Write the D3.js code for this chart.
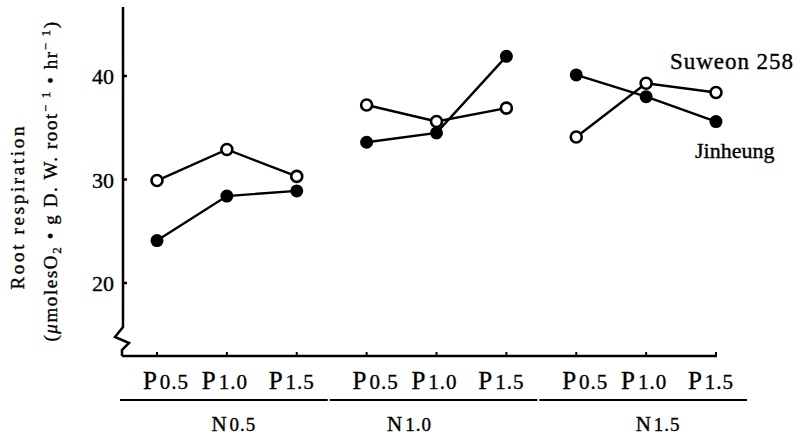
<!DOCTYPE html>
<html>
<head>
    <meta charset="utf-8">
    <script src="https://cdnjs.cloudflare.com/ajax/libs/d3/7.8.5/d3.min.js"></script>
    <style>
        body { margin: 0; background: #fff; }
        svg text { font-family: 'Liberation Serif', 'Times New Roman', 'DejaVu Serif', serif; fill: #000; stroke: #000; stroke-width: 0.35; }
    </style>
</head>
<body>
    <svg id="chart"></svg>
    <script>
        // data
        const nLevels = ['0.5', '1.0', '1.5'];
        const pLevels = ['0.5', '1.0', '1.5'];
        const suweon = [29.9, 32.9, 30.3, 37.2, 35.6, 36.9, 34.1, 39.3, 38.4];
        const jinheung = [24.1, 28.4, 28.9, 33.6, 34.5, 41.9, 40.1, 38.0, 35.6];
        const yTicks = [20, 30, 40];

        const width = 797, height = 442;
        const svg = d3.select('#chart').attr('width', width).attr('height', height);

        const x = d3.scaleLinear().domain([0, 8]).range([157, 716]);
        const y = d3.scaleLinear().domain([20, 40]).range([283, 76]);

        const axisX = 123, axisY = 356;

        // y axis with break
        svg.append('path')
            .attr('d', `M${axisX},7 L${axisX},327 L${axisX - 8},337 L${axisX + 6},343 L${axisX - 1},350 L${axisX - 1},${axisY}`)
            .attr('fill', 'none').attr('stroke', '#000').attr('stroke-width', 2.5);

        svg.append('g').selectAll('line')
            .data(yTicks).join('line')
            .attr('x1', axisX).attr('x2', axisX + 4)
            .attr('y1', d => y(d)).attr('y2', d => y(d))
            .attr('stroke', '#000').attr('stroke-width', 2.5);

        svg.append('g').selectAll('text')
            .data(yTicks).join('text')
            .attr('x', 114).attr('y', d => y(d) + 8)
            .attr('text-anchor', 'end')
            .attr('font-size', 22)
            .text(d => d);

        // x axis
        svg.append('line')
            .attr('x1', axisX - 1).attr('x2', x(8) + 1)
            .attr('y1', axisY).attr('y2', axisY)
            .attr('stroke', '#000').attr('stroke-width', 2.5);

        const idx = d3.range(9);
        svg.append('g').selectAll('line')
            .data(idx).join('line')
            .attr('x1', d => x(d)).attr('x2', d => x(d))
            .attr('y1', axisY).attr('y2', axisY - 4)
            .attr('stroke', '#000').attr('stroke-width', 2);

        // P labels
        const pNudge = [9, -2, -5];
        const pLab = svg.append('g').selectAll('text')
            .data(idx).join('text')
            .attr('x', d => x(d) + pNudge[d % 3]).attr('y', 389)
            .attr('text-anchor', 'middle');
        pLab.append('tspan').attr('font-size', 25).text('P');
        pLab.append('tspan').attr('font-size', 21).attr('dx', 3).attr('letter-spacing', 1)
            .text(d => pLevels[d % 3]);

        // group underlines + N labels
        const groups = d3.range(3);
        svg.append('g').selectAll('line')
            .data(groups).join('line')
            .attr('x1', g => x(g * 3) - 37).attr('x2', g => x(g * 3 + 2) + 31)
            .attr('y1', 400).attr('y2', 400)
            .attr('stroke', '#000').attr('stroke-width', 2);

        const nNudge = [7, -27, 12];
        const nLab = svg.append('g').selectAll('text')
            .data(groups).join('text')
            .attr('x', g => x(g * 3 + 1) + nNudge[g]).attr('y', 431)
            .attr('text-anchor', 'middle');
        nLab.append('tspan').attr('font-size', 21).text('N');
        nLab.append('tspan').attr('font-size', 19).attr('dx', 3).attr('letter-spacing', 1)
            .text(g => nLevels[g]);

        // lines per N group
        const line = d3.line().x(d => x(d.i)).y(d => y(d.v));
        function drawSeries(vals) {
            const pts = vals.map((v, i) => ({ i, v }));
            groups.forEach(g => {
                svg.append('path')
                    .datum(pts.slice(g * 3, g * 3 + 3))
                    .attr('d', line)
                    .attr('fill', 'none').attr('stroke', '#000').attr('stroke-width', 2.4);
            });
            return pts;
        }
        const sPts = drawSeries(suweon);
        const jPts = drawSeries(jinheung);

        svg.append('g').selectAll('circle')
            .data(jPts).join('circle')
            .attr('cx', d => x(d.i)).attr('cy', d => y(d.v)).attr('r', 6.5)
            .attr('fill', '#000');

        svg.append('g').selectAll('circle')
            .data(sPts).join('circle')
            .attr('cx', d => x(d.i)).attr('cy', d => y(d.v)).attr('r', 5.5)
            .attr('fill', '#fff').attr('stroke', '#000').attr('stroke-width', 2.6);

        // series labels
        svg.append('text').attr('x', 670).attr('y', 69).attr('font-size', 23)
            .attr('textLength', 123).attr('lengthAdjust', 'spacing')
            .text('Suweon 258');
        svg.append('text').attr('x', 695).attr('y', 158).attr('font-size', 22)
            .text('Jinheung');

        // y axis title
        svg.append('text')
            .attr('transform', 'translate(24,208) rotate(-90)')
            .attr('text-anchor', 'middle').attr('font-size', 19)
            .attr('textLength', 163).attr('lengthAdjust', 'spacing')
            .text('Root respiration');

        const t2 = svg.append('text')
            .attr('transform', 'translate(57,181) rotate(-90)')
            .attr('text-anchor', 'middle').attr('font-size', 19)
            .attr('letter-spacing', 1.6);
        t2.append('tspan').text('(');
        t2.append('tspan').attr('font-style', 'italic').text('μ');
        t2.append('tspan').text('molesO');
        t2.append('tspan').attr('font-size', 13).attr('dy', 4).text('2');
        t2.append('tspan').attr('dy', -4).text(' • g D. W. root');
        t2.append('tspan').attr('font-size', 13).attr('dy', -7).text('− 1');
        t2.append('tspan').attr('dy', 7).text(' • hr');
        t2.append('tspan').attr('font-size', 13).attr('dy', -7).text('− 1');
        t2.append('tspan').attr('dy', 7).text(')');
    </script>
</body>
</html>
